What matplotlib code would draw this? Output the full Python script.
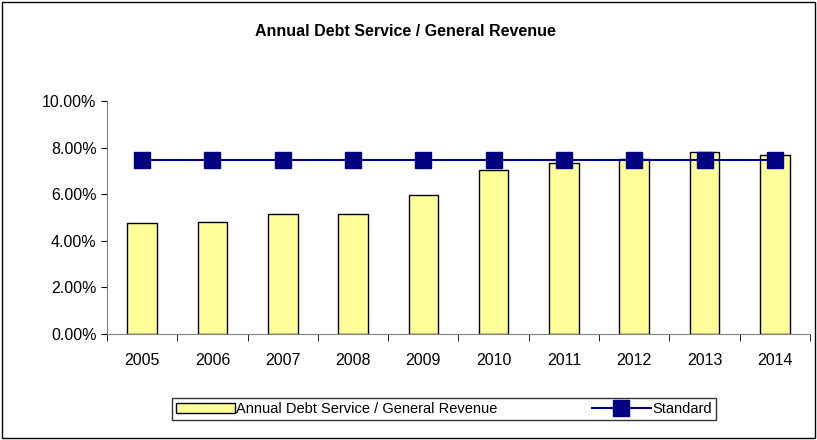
import matplotlib
matplotlib.use("Agg")
import matplotlib.pyplot as plt
from matplotlib.patches import Rectangle

plt.rcParams["font.family"] = ["Liberation Sans", "DejaVu Sans"]

years = ["2005","2006","2007","2008","2009","2010","2011","2012","2013","2014"]
ratio = [4.75, 4.82, 5.15, 5.15, 5.98, 7.02, 7.35, 7.50, 7.82, 7.68]
standard = [7.45]*10

fig = plt.figure(figsize=(8.17, 4.40), dpi=100)
fig.patches.append(Rectangle((0.003, 0.005), 0.994, 0.99, transform=fig.transFigure,
                             fill=False, edgecolor="black", lw=1))
ax = fig.add_axes([107/817, 1-334/440, (810-107)/817, (334-101)/440])
x = range(len(years))
b = ax.bar(x, ratio, width=0.42, color="#FFFF99", edgecolor="black", lw=1,
           label="Annual Debt Service / General Revenue")
l, = ax.plot(x, standard, color="#000080", marker="s", ms=11, lw=1.5, label="Standard")
ax.set_xlim(-0.5, 9.5)
ax.set_ylim(0, 10)
ax.set_yticks([0,2,4,6,8,10])
ax.set_yticklabels([f"{v:.2f}%" for v in [0,2,4,6,8,10]], fontsize=11.5)
ax.set_xticks(list(x))
ax.set_xticklabels(years, fontsize=11.5)
ax.set_xticks([i-0.5 for i in range(11)], minor=True)
ax.tick_params(axis="x", which="major", length=0, pad=14)
ax.tick_params(axis="x", which="minor", length=5, direction="out")
ax.tick_params(axis="y", length=4, direction="out")
for s in ["top", "right"]:
    ax.spines[s].set_visible(False)
ax.spines["bottom"].set_color("#808080")
ax.spines["left"].set_color("#808080")
fig.text(405/817, 1-32/440, "Annual Debt Service / General Revenue", ha="center", va="center",
         fontsize=11.5, fontweight="bold")
fig.legend([b, l], [b.get_label(), l.get_label()], loc="center",
           bbox_to_anchor=(444/817, 1-409/440), ncol=2, fontsize=10.5,
           frameon=True, fancybox=False, edgecolor="black", handlelength=4,
           columnspacing=6.5, borderpad=0.3, handletextpad=0.1)
fig.savefig("out.png", dpi=100)
